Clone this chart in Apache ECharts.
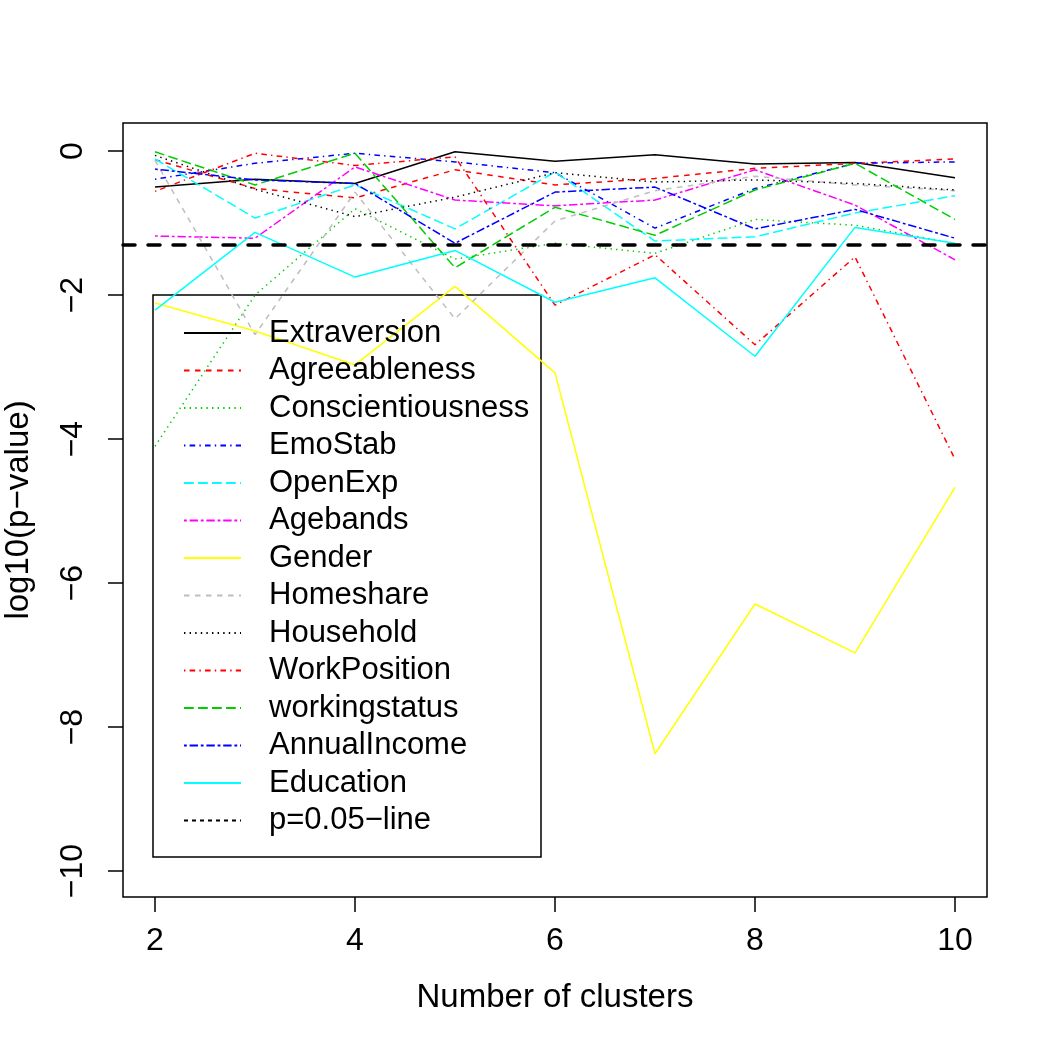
<!DOCTYPE html>
<html>
<head>
<meta charset="utf-8">
<script src="https://cdn.jsdelivr.net/npm/echarts@6/dist/echarts.min.js"></script>
<style>
html,body{margin:0;padding:0;background:#fff;}
#chart{width:1050px;height:1050px;}
</style>
</head>
<body>
<div id="chart"></div>
<script>
var clusters = [2, 3, 4, 5, 6, 7, 8, 9, 10];
var xTicks = [2, 4, 6, 8, 10];
var yTicks = [0, -2, -4, -6, -8, -10];

var extraversion     = [-0.50, -0.39, -0.45, -0.01, -0.14, -0.05, -0.18, -0.16, -0.37];
var agreeableness    = [-0.12, -0.52, -0.65, -0.26, -0.47, -0.38, -0.24, -0.17, -0.11];
var conscientious    = [-4.10, -2.00, -0.80, -1.50, -1.28, -1.42, -0.95, -1.03, -1.28];
var emoStab          = [-0.39, -0.17, -0.03, -0.15, -0.30, -1.07, -0.52, -0.17, -0.15];
var openExp          = [-0.11, -0.93, -0.47, -1.08, -0.29, -1.25, -1.19, -0.86, -0.62];
var agebands         = [-1.18, -1.21, -0.22, -0.68, -0.76, -0.68, -0.26, -0.75, -1.51];
var gender           = [-2.11, -2.50, -2.97, -1.88, -3.08, -8.37, -6.29, -6.97, -4.67];
var homeshare        = [-0.13, -2.55, -0.57, -2.33, -0.97, -0.55, -0.35, -0.47, -0.55];
var household        = [-0.06, -0.53, -0.91, -0.64, -0.30, -0.43, -0.40, -0.45, -0.54];
var workPosition     = [-0.56, -0.03, -0.20, -0.08, -2.14, -1.44, -2.69, -1.47, -4.28];
var workingstatus    = [-0.01, -0.47, -0.03, -1.62, -0.78, -1.17, -0.54, -0.17, -0.95];
var annualIncome     = [-0.25, -0.40, -0.45, -1.28, -0.57, -0.50, -1.08, -0.81, -1.21];
var education        = [-2.21, -1.13, -1.75, -1.38, -2.10, -1.76, -2.85, -1.06, -1.28];
var pLine = Math.log10(0.05);

var font = "'Liberation Sans', Arial, sans-serif";

// R lty patterns, scaled to pixels
var DASHED = [5.5, 5.5];
var DOTTED = [1.4, 4.2];
var DOTDASH = [1.4, 4.2, 5.6, 4.2];
var LONGDASH = [9.8, 4.2];
var TWODASH = [2.8, 2.8, 8.4, 2.8];

function mk(name, vals, color, type){
    return {
        name: name,
        type: 'line',
        symbol: 'none',
        silent: true,
        data: clusters.map(function(c, i){ return [c, vals[i]]; }),
        lineStyle: {color: color, width: 1.5, type: type},
        itemStyle: {color: color}
    };
}

var series = [
    mk('Extraversion', extraversion, '#000000', 'solid'),
    mk('Agreeableness', agreeableness, '#FF0000', DASHED),
    mk('Conscientiousness', conscientious, '#00CD00', DOTTED),
    mk('EmoStab', emoStab, '#0000FF', DOTDASH),
    mk('OpenExp', openExp, '#00FFFF', LONGDASH),
    mk('Agebands', agebands, '#FF00FF', TWODASH),
    mk('Gender', gender, '#FFFF00', 'solid'),
    mk('Homeshare', homeshare, '#BEBEBE', DASHED),
    mk('Household', household, '#000000', DOTTED),
    mk('WorkPosition', workPosition, '#FF0000', DOTDASH),
    mk('workingstatus', workingstatus, '#00CD00', LONGDASH),
    mk('AnnualIncome', annualIncome, '#0000FF', TWODASH),
    mk('Education', education, '#00FFFF', 'solid'),
    {
        name: 'p=0.05\u2212line',
        type: 'line',
        symbol: 'none',
        data: [],
        lineStyle: {color: '#000', width: 1, type: [4, 4]},
        itemStyle: {color: '#000'},
        markLine: {
            silent: true,
            symbol: 'none',
            label: {show: false},
            lineStyle: {color: '#000', width: 3.5, type: [12, 13], cap: 'round'},
            data: [{yAxis: pLine}]
        }
    }
];

var chart = echarts.init(document.getElementById('chart'));
chart.setOption({
    animation: false,
    backgroundColor: '#fff',
    grid: {left: 123, top: 123, width: 864, height: 774, show: true,
           outerBoundsMode: 'none', containLabel: false,
           borderColor: '#000', borderWidth: 1.5, backgroundColor: 'transparent'},
    xAxis: {
        type: 'value', min: 1.68, max: 10.32,
        name: 'Number of clusters', nameLocation: 'middle', nameGap: 84,
        nameTextStyle: {fontSize: 33, color: '#000', fontFamily: font},
        axisLine: {show: false, onZero: false},
        splitLine: {show: false},
        axisTick: {show: true, inside: false, length: 15, customValues: xTicks,
                   lineStyle: {color: '#000', width: 1.5}},
        axisLabel: {customValues: xTicks, margin: 28, fontSize: 32, color: '#000', fontFamily: font}
    },
    yAxis: {
        type: 'value', min: -10.36, max: 0.39,
        name: 'log10(p\u2212value)', nameLocation: 'middle', nameGap: 88, nameRotate: 90,
        nameTextStyle: {fontSize: 33, color: '#000', fontFamily: font},
        axisLine: {show: false, onZero: false},
        splitLine: {show: false},
        axisTick: {show: true, inside: false, length: 15, customValues: yTicks,
                   lineStyle: {color: '#000', width: 1.5}},
        axisLabel: {customValues: yTicks, rotate: 90, margin: 34, fontSize: 32, color: '#000',
                    fontFamily: font,
                    formatter: function(v){ return String(v).replace('-', '\u2212'); }}
    },
    legend: {
        orient: 'vertical', left: 153, top: 295,
        padding: [22, 10, 20, 30],
        itemWidth: 57, itemHeight: 14, itemGap: 5.5,
        itemStyle: {opacity: 0},
        textStyle: {fontSize: 31, lineHeight: 32, color: '#000', fontFamily: font,
                    padding: [0, 0, 0, 23]},
        data: series.map(function(s){ return s.name; })
    },
    graphic: [{
        type: 'rect', z: 3, silent: true,
        shape: {x: 153, y: 295, width: 388, height: 562},
        style: {fill: '#fff', stroke: '#000', lineWidth: 1.5}
    }],
    series: series
});
</script>
</body>
</html>
